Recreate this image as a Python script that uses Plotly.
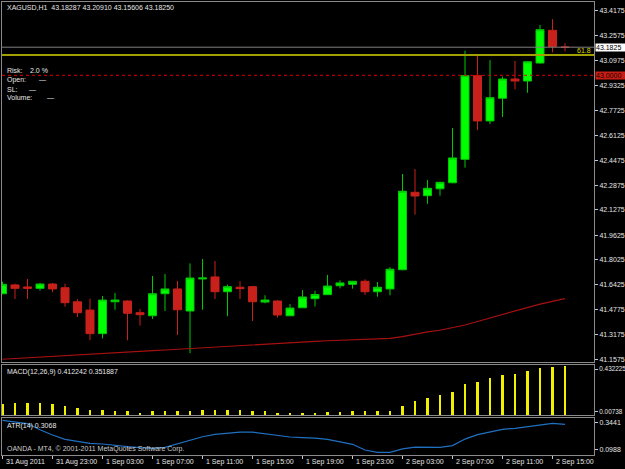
import plotly.graph_objects as go

# ---------------- data ----------------
time_labels = ["31 Aug 2011", "31 Aug 23:00", "1 Sep 03:00", "1 Sep 07:00", "1 Sep 11:00",
               "1 Sep 15:00", "1 Sep 19:00", "1 Sep 23:00", "2 Sep 03:00", "2 Sep 07:00",
               "2 Sep 11:00", "2 Sep 15:00"]
time_label_bars = [0, 4, 8, 12, 16, 20, 24, 28, 32, 36, 40, 44]

opens = [41.583, 41.640, 41.627, 41.618, 41.646, 41.622, 41.531, 41.477, 41.324, 41.531,
         41.536, 41.460, 41.440, 41.583, 41.614, 41.471, 41.679, 41.692, 41.596, 41.625,
         41.629, 41.529, 41.536, 41.440, 41.492, 41.551, 41.577, 41.635, 41.644, 41.664,
         41.596, 41.614, 41.739, 42.241, 42.219, 42.264, 42.303, 42.455, 42.998, 42.704,
         42.851, 42.976, 42.963, 43.080, 43.292, 43.18287]
highs = [41.661, 41.648, 41.679, 41.653, 41.653, 41.648, 41.547, 41.551, 41.568, 41.588,
         41.540, 41.484, 41.698, 41.711, 41.666, 41.780, 41.808, 41.795, 41.642, 41.664,
         41.633, 41.573, 41.540, 41.516, 41.607, 41.602, 41.705, 41.670, 41.666, 41.677,
         41.659, 41.756, 42.360, 42.392, 42.321, 42.306, 42.658, 43.160, 43.138, 43.099,
         42.991, 43.093, 43.090, 43.327, 43.364, 43.20910]
lows = [41.580, 41.549, 41.549, 41.603, 41.594, 41.499, 41.432, 41.281, 41.294, 41.479,
        41.281, 41.376, 41.419, 41.471, 41.315, 41.197, 41.479, 41.549, 41.437, 41.549,
        41.406, 41.521, 41.428, 41.438, 41.490, 41.500, 41.575, 41.618, 41.616, 41.575,
        41.564, 41.573, 41.735, 42.096, 42.167, 42.219, 42.300, 42.401, 42.645, 42.684,
        42.730, 42.909, 42.887, 43.075, 43.149, 43.15606]
closes = [41.644, 41.618, 41.618, 41.646, 41.614, 41.525, 41.460, 41.324, 41.542, 41.542,
          41.456, 41.447, 41.583, 41.614, 41.479, 41.685, 41.685, 41.596, 41.629, 41.616,
          41.531, 41.542, 41.445, 41.490, 41.562, 41.578, 41.633, 41.653, 41.664, 41.596,
          41.625, 41.742, 42.248, 42.217, 42.267, 42.306, 42.464, 42.998, 42.704, 42.855,
          42.976, 42.963, 43.088, 43.296, 43.186, 43.18250]
moving_avg = [41.158, 41.163, 41.168, 41.172, 41.177, 41.182, 41.187, 41.191, 41.196, 41.200,
              41.205, 41.209, 41.214, 41.218, 41.223, 41.228, 41.233, 41.237, 41.242, 41.246,
              41.251, 41.255, 41.260, 41.265, 41.269, 41.274, 41.278, 41.281, 41.284, 41.287,
              41.290, 41.294, 41.305, 41.322, 41.335, 41.346, 41.364, 41.380, 41.403, 41.426,
              41.448, 41.471, 41.494, 41.516, 41.534, 41.551]
macd_hist = [0.092, 0.097, 0.097, 0.097, 0.086, 0.072, 0.057, 0.040, 0.040, 0.034,
             0.026, 0.017, 0.026, 0.026, 0.029, 0.034, 0.040, 0.040, 0.040, 0.040,
             0.034, 0.026, 0.014, 0.009, 0.014, 0.014, 0.020, 0.020, 0.026, 0.026,
             0.029, 0.034, 0.077, 0.112, 0.140, 0.169, 0.197, 0.263, 0.283, 0.312,
             0.338, 0.349, 0.369, 0.398, 0.404, 0.412]
atr = [0.333, 0.319, 0.310, 0.268, 0.232, 0.202, 0.191, 0.175, 0.170, 0.159,
       0.152, 0.145, 0.140, 0.147, 0.170, 0.193, 0.220, 0.236, 0.246, 0.252,
       0.252, 0.241, 0.230, 0.218, 0.214, 0.211, 0.202, 0.186, 0.168, 0.129,
       0.113, 0.113, 0.136, 0.149, 0.147, 0.147, 0.159, 0.204, 0.234, 0.255,
       0.271, 0.278, 0.289, 0.301, 0.312, 0.305]

price_ticks = [43.4175, 43.2575, 43.0975, 42.9325, 42.7725, 42.6125, 42.4475, 42.2875,
               42.1275, 41.9625, 41.8025, 41.6425, 41.4775, 41.3175, 41.1575]
bid_price = 43.1825
fib_level = 43.132
fib_label = "61.8"
pending_level = 43.0000
macd_tick_pos = [0.386, 0.020]
macd_tick_text = ["0.432225", "0.00738"]
atr_tick_pos = [0.3164, 0.1337]
atr_tick_text = ["0.3441", "0.0988"]

# ---------------- figure ----------------
W, H = 625, 469
def py(px):
    return 1 - px / H

x_dom = [2 / W, 594 / W]
x_rng = [-0.04, 47.32]
idx = list(range(len(opens)))
FONT = "Liberation Sans"
TXT = "#E6E6E6"
GRID = "#8A8A8A"

fig = go.Figure()
fig.add_trace(go.Scatter(x=idx, y=moving_avg, mode="lines",
                         line=dict(color="#A81010", width=1.2),
                         xaxis="x2", yaxis="y2", hoverinfo="skip"))
fig.add_trace(go.Candlestick(x=idx, open=opens, high=highs, low=lows, close=closes,
                             increasing=dict(line=dict(color="#00C800", width=1), fillcolor="#00FF00"),
                             decreasing=dict(line=dict(color="#C8201A", width=1), fillcolor="#C8201A"),
                             whiskerwidth=0, xaxis="x2", yaxis="y2", hoverinfo="skip"))
fig.add_trace(go.Bar(x=idx, y=macd_hist, width=0.17, marker=dict(color="#F0F000", line=dict(width=0)),
                     xaxis="x3", yaxis="y3", hoverinfo="skip"))
fig.add_trace(go.Scatter(x=idx, y=atr, mode="lines", line=dict(color="#2070C0", width=1.2),
                         xaxis="x", yaxis="y", hoverinfo="skip"))

axis_common = dict(showgrid=False, zeroline=False, showline=True, mirror=True,
                   linecolor=GRID, linewidth=1, automargin=False)
yax_common = dict(axis_common, side="right", ticks="outside", ticklen=3, tickcolor="#C8C8C8",
                  tickfont=dict(family=FONT, size=7, color=TXT))

fig.update_layout(
    width=W, height=H, margin=dict(l=0, r=0, t=0, b=0, autoexpand=False),
    paper_bgcolor="#000000", plot_bgcolor="#000000", showlegend=False,
    boxgap=0.2, boxgroupgap=0.2, bargap=0,
    xaxis=dict(axis_common, domain=x_dom, range=x_rng, anchor="y",
               tickvals=time_label_bars, ticktext=[""] * len(time_label_bars),
               ticks="outside", ticklen=3, tickcolor="#C8C8C8", showticklabels=False),
    xaxis2=dict(axis_common, domain=x_dom, range=x_rng, anchor="y2", showticklabels=False,
                rangeslider=dict(visible=False), matches="x"),
    xaxis3=dict(axis_common, domain=x_dom, range=x_rng, anchor="y3", showticklabels=False, matches="x"),
    yaxis=dict(yax_common, domain=[py(455), py(418)], range=[0.0945, 0.3487], anchor="x",
               tickvals=atr_tick_pos, ticktext=atr_tick_text),
    yaxis2=dict(yax_common, domain=[py(362), py(2)], range=[41.1401, 43.4757], anchor="x2",
                tickvals=price_ticks, ticktext=[f"{v:.4f}" for v in price_ticks]),
    yaxis3=dict(yax_common, domain=[py(415), py(364.5)], range=[-0.00858, 0.4247], anchor="x3",
                tickvals=macd_tick_pos, ticktext=macd_tick_text,
                tickfont=dict(family=FONT, size=6.4, color=TXT)),
)

# level lines in the price panel
fig.add_shape(type="line", xref="paper", yref="y2", x0=x_dom[0], x1=x_dom[1], y0=bid_price, y1=bid_price,
              line=dict(color="#808080", width=1))
fig.add_shape(type="line", xref="paper", yref="y2", x0=x_dom[0], x1=x_dom[1], y0=fib_level, y1=fib_level,
              line=dict(color="#A0A000", width=2))
fig.add_shape(type="line", xref="paper", yref="y2", x0=x_dom[0], x1=x_dom[1], y0=pending_level, y1=pending_level,
              line=dict(color="#E00000", width=1, dash="dot"))

def txt(x_px, y_px, s, color=TXT, anchor="left", size=7):
    fig.add_annotation(xref="paper", yref="paper", x=x_px / W, y=py(y_px), text=s, showarrow=False,
                       xanchor=anchor, yanchor="middle", font=dict(family=FONT, size=size, color=color))

txt(5, 8, "XAGUSD,H1  43.18287 43.20910 43.15606 43.18250")
txt(5, 70, "Risk:")
txt(28, 70, "2.0 %")
txt(5, 80, "Open:")
txt(37, 80, "—")
txt(5, 89, "SL:")
txt(27, 89, "—")
txt(5, 98, "Volume:")
txt(45, 98, "—")
txt(5, 372, "MACD(12,26,9) 0.412242 0.351887")
txt(5, 426, "ATR(14) 0.3068")
txt(5, 449, "OANDA - MT4, © 2001-2011 MetaQuotes Software Corp.", color="#CCCCCC")
txt(593, 50, fib_label, color="#D8D800", anchor="right")

# price boxes on the right scale
fig.add_annotation(xref="paper", yref="y2", x=595 / W, y=bid_price, text=f"{bid_price:.4f}", showarrow=False,
                   xanchor="left", yanchor="middle", bgcolor="#FFFFFF", width=30, height=7, align="left",
                   borderpad=0, font=dict(family=FONT, size=7, color="#000000"))
fig.add_annotation(xref="paper", yref="y2", x=595 / W, y=pending_level, text=f"{pending_level:.4f}", showarrow=False,
                   xanchor="left", yanchor="middle", bgcolor="#C81E14", width=30, height=7, align="left",
                   borderpad=0, font=dict(family=FONT, size=7, color="#1A0000"))

# time labels, left-aligned at their tick
for b, lab in zip(time_label_bars, time_labels):
    fig.add_annotation(xref="x", yref="paper", x=b, y=py(462), text=lab, showarrow=False,
                       xanchor="left", yanchor="middle", xshift=1,
                       font=dict(family=FONT, size=7, color=TXT))

fig.write_html("out.html", config={"displayModeBar": False},
               post_script="document.body.style.margin='0';document.body.style.overflow='hidden';"
                           "document.body.style.background='#000';")
